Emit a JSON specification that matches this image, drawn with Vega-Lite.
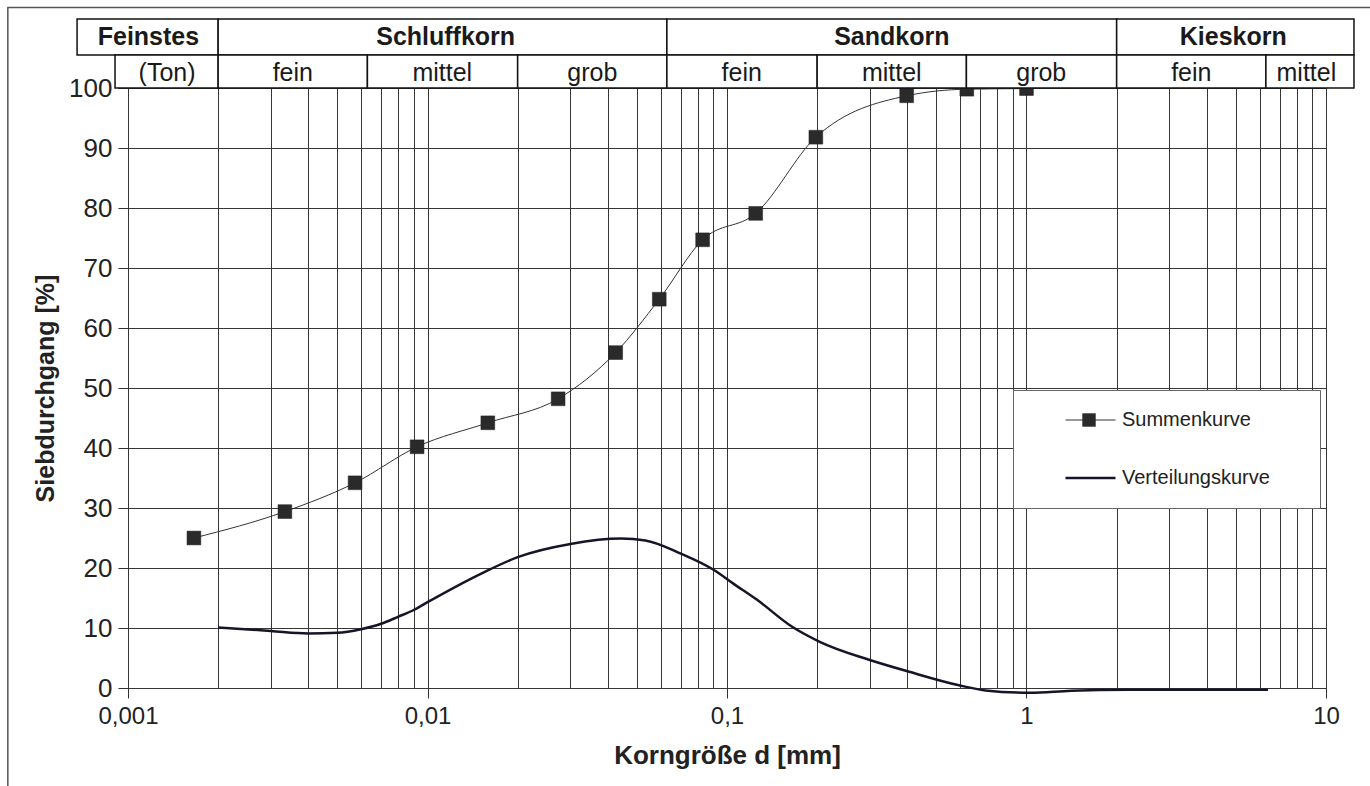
{
  "$schema": "https://vega.github.io/schema/vega-lite/v6.json",
  "width": 1198,
  "height": 600,
  "autosize": {"type": "none"},
  "padding": {"left": 128, "top": 88, "right": 44, "bottom": 98},
  "background": "white",
  "config": {
    "font": "Liberation Sans",
    "view": {"stroke": "#222222", "strokeWidth": 1},
    "axis": {"labelFont": "Liberation Sans", "titleFont": "Liberation Sans", "labelColor": "#222222", "titleColor": "#222222"},
    "legend": {"labelFont": "Liberation Sans", "labelColor": "#222222"}
  },
  "datasets": {
    "kurven": [
      {"series": "Summenkurve", "d": 0.00166, "p": 25.0},
      {"series": "Summenkurve", "d": 0.00334, "p": 29.4},
      {"series": "Summenkurve", "d": 0.00573, "p": 34.2},
      {"series": "Summenkurve", "d": 0.00923, "p": 40.2},
      {"series": "Summenkurve", "d": 0.0159, "p": 44.2},
      {"series": "Summenkurve", "d": 0.0273, "p": 48.2},
      {"series": "Summenkurve", "d": 0.0425, "p": 55.9},
      {"series": "Summenkurve", "d": 0.0594, "p": 64.8},
      {"series": "Summenkurve", "d": 0.0829, "p": 74.7},
      {"series": "Summenkurve", "d": 0.1247, "p": 79.1},
      {"series": "Summenkurve", "d": 0.198, "p": 91.8},
      {"series": "Summenkurve", "d": 0.398, "p": 98.7},
      {"series": "Summenkurve", "d": 0.632, "p": 99.8},
      {"series": "Summenkurve", "d": 1.0, "p": 99.9},
      {"series": "Verteilungskurve", "d": 0.002, "p": 10.1},
      {"series": "Verteilungskurve", "d": 0.003, "p": 9.5},
      {"series": "Verteilungskurve", "d": 0.004, "p": 9.1},
      {"series": "Verteilungskurve", "d": 0.005, "p": 9.2},
      {"series": "Verteilungskurve", "d": 0.006, "p": 9.8},
      {"series": "Verteilungskurve", "d": 0.007, "p": 10.7},
      {"series": "Verteilungskurve", "d": 0.008, "p": 11.9},
      {"series": "Verteilungskurve", "d": 0.009, "p": 13.0},
      {"series": "Verteilungskurve", "d": 0.01, "p": 14.3},
      {"series": "Verteilungskurve", "d": 0.0153, "p": 19.2},
      {"series": "Verteilungskurve", "d": 0.02, "p": 21.8},
      {"series": "Verteilungskurve", "d": 0.03, "p": 24.0},
      {"series": "Verteilungskurve", "d": 0.0443, "p": 24.9},
      {"series": "Verteilungskurve", "d": 0.0534, "p": 24.6},
      {"series": "Verteilungskurve", "d": 0.0701, "p": 22.4},
      {"series": "Verteilungskurve", "d": 0.0902, "p": 19.7},
      {"series": "Verteilungskurve", "d": 0.105, "p": 17.4},
      {"series": "Verteilungskurve", "d": 0.126, "p": 14.7},
      {"series": "Verteilungskurve", "d": 0.165, "p": 10.2},
      {"series": "Verteilungskurve", "d": 0.204, "p": 7.7},
      {"series": "Verteilungskurve", "d": 0.298, "p": 4.7},
      {"series": "Verteilungskurve", "d": 0.406, "p": 2.7},
      {"series": "Verteilungskurve", "d": 0.59, "p": 0.5},
      {"series": "Verteilungskurve", "d": 0.73, "p": -0.4},
      {"series": "Verteilungskurve", "d": 1.03, "p": -0.8},
      {"series": "Verteilungskurve", "d": 1.41, "p": -0.45},
      {"series": "Verteilungskurve", "d": 2.17, "p": -0.3},
      {"series": "Verteilungskurve", "d": 6.4, "p": -0.3}
    ],
    "kopf_oben": [
      {"label": "Feinstes", "d_von": 0.000676, "d_bis": 0.002, "d_mitte": 0.00117},
      {"label": "Schluffkorn", "d_von": 0.002, "d_bis": 0.063, "d_mitte": 0.0115},
      {"label": "Sandkorn", "d_von": 0.063, "d_bis": 2, "d_mitte": 0.355},
      {"label": "Kieskorn", "d_von": 2, "d_bis": 12.4, "d_mitte": 4.9}
    ],
    "kopf_unten": [
      {"label": "(Ton)", "d_von": 0.000905, "d_bis": 0.002, "d_mitte": 0.00135},
      {"label": "fein", "d_von": 0.002, "d_bis": 0.0063, "d_mitte": 0.00355},
      {"label": "mittel", "d_von": 0.0063, "d_bis": 0.02, "d_mitte": 0.0112},
      {"label": "grob", "d_von": 0.02, "d_bis": 0.063, "d_mitte": 0.0355},
      {"label": "fein", "d_von": 0.063, "d_bis": 0.2, "d_mitte": 0.112},
      {"label": "mittel", "d_von": 0.2, "d_bis": 0.63, "d_mitte": 0.355},
      {"label": "grob", "d_von": 0.63, "d_bis": 2, "d_mitte": 1.12},
      {"label": "fein", "d_von": 2, "d_bis": 6.3, "d_mitte": 3.55},
      {"label": "mittel", "d_von": 6.3, "d_bis": 12.4, "d_mitte": 8.6}
    ]
  },
  "layer": [
    {
      "data": {"name": "kurven"},
      "mark": {"type": "line", "interpolate": "monotone", "clip": false},
      "encoding": {
        "x": {
          "field": "d", "type": "quantitative",
          "scale": {"type": "log", "domain": [0.001, 10], "nice": false},
          "axis": {
            "values": [0.001, 0.002, 0.003, 0.004, 0.005, 0.006, 0.007, 0.008, 0.009, 0.01, 0.02, 0.03, 0.04, 0.05, 0.06, 0.07, 0.08, 0.09, 0.1, 0.2, 0.3, 0.4, 0.5, 0.6, 0.7, 0.8, 0.9, 1, 2, 3, 4, 5, 6, 7, 8, 9, 10],
            "labelExpr": "datum.value == 0.001 ? '0,001' : datum.value == 0.01 ? '0,01' : datum.value == 0.1 ? '0,1' : datum.value == 1 ? '1' : datum.value == 10 ? '10' : ''",
            "grid": true, "gridColor": "#363636", "gridWidth": 1,
            "domain": false,
            "ticks": true, "tickSize": 10, "tickColor": "#333333", "tickWidth": 1,
            "tickOpacity": {"condition": {"test": "indexof([0.001, 0.01, 0.1, 1, 10], datum.value) >= 0", "value": 1}, "value": 0},
            "labelFontSize": 24, "labelPadding": 6, "labelFlush": false, "labelOverlap": false, "labelBound": false,
            "title": "Korngröße  d [mm]", "titleFontSize": 26, "titleFontWeight": "bold", "titlePadding": 14
          }
        },
        "y": {
          "field": "p", "type": "quantitative",
          "scale": {"domain": [0, 100], "nice": false, "zero": false},
          "axis": {
            "values": [0, 5, 10, 15, 20, 25, 30, 35, 40, 45, 50, 55, 60, 65, 70, 75, 80, 85, 90, 95, 100],
            "labelExpr": "datum.value % 10 == 0 ? datum.label : ''",
            "grid": true, "gridColor": "#363636", "gridWidth": 1,
            "domain": false,
            "ticks": true, "tickSize": 10, "tickColor": "#333333",
            "tickOpacity": {"condition": {"test": "datum.value % 10 == 0", "value": 1}, "value": 0},
            "labelFontSize": 26, "labelPadding": 6, "labelOverlap": false, "labelFlush": false,
            "title": "Siebdurchgang [%]", "titleFontSize": 25, "titleFontWeight": "bold", "titlePadding": 10
          }
        },
        "color": {
          "field": "series", "type": "nominal",
          "scale": {"domain": ["Summenkurve", "Verteilungskurve"], "range": ["#333333", "#15152a"]},
          "legend": {
            "orient": "none", "legendX": 885, "legendY": 302, "direction": "vertical", "title": null,
            "padding": 5, "rowPadding": 8, "clipHeight": 50, "symbolSize": 2500, "symbolOffset": 46, "labelOffset": 5,
            "labelFontSize": 20, "labelLimit": 400,
            "labelExpr": "datum.label + '\u2800\u2800\u2800'",
            "strokeColor": "#666666", "fillColor": "white", "cornerRadius": 0
          }
        },
        "strokeWidth": {
          "field": "series", "type": "ordinal",
          "scale": {"domain": ["Summenkurve", "Verteilungskurve"], "range": [1, 2.5]}
        }
      }
    },
    {
      "data": {"values": [{"rahmen": 1}]},
      "mark": {"type": "rect", "fill": null, "fillOpacity": 0, "stroke": "#555555", "strokeWidth": 1.5, "clip": false},
      "encoding": {
        "x": {"datum": 0.000397, "type": "quantitative", "scale": {"type": "log", "domain": [0.001, 10], "nice": false}},
        "x2": {"datum": 100},
        "y": {"datum": -40, "type": "quantitative", "scale": {"domain": [0, 100], "nice": false, "zero": false}},
        "y2": {"datum": 113.4}
      }
    },
    {
      "data": {"name": "kurven"},
      "transform": [{"filter": "datum.series == 'Summenkurve'"}],
      "mark": {"type": "point", "filled": true, "color": "#2a2a2a", "opacity": 1, "size": 190, "stroke": "#222222", "strokeWidth": 0.5, "clip": false},
      "encoding": {
        "x": {"field": "d", "type": "quantitative", "scale": {"type": "log", "domain": [0.001, 10], "nice": false}},
        "y": {"field": "p", "type": "quantitative", "scale": {"domain": [0, 100], "nice": false, "zero": false}},
        "shape": {
          "field": "series", "type": "nominal",
          "scale": {"domain": ["Summenkurve"], "range": ["square"]},
          "legend": {
            "orient": "none", "legendX": 954, "legendY": 325, "title": null, "padding": 0,
            "symbolSize": 180, "symbolFillColor": "#2a2a2a", "symbolStrokeColor": "#222222", "symbolStrokeWidth": 0.5,
            "labelExpr": "''", "labelFontSize": 1, "symbolOffset": 0
          }
        }
      }
    },
    {
      "data": {"name": "kopf_oben"},
      "mark": {"type": "rect", "fill": "white", "stroke": "#111111", "strokeWidth": 1.5, "clip": false},
      "encoding": {
        "x": {"field": "d_von", "type": "quantitative", "scale": {"type": "log", "domain": [0.001, 10], "nice": false}},
        "x2": {"field": "d_bis"},
        "y": {"datum": 105.5, "type": "quantitative", "scale": {"domain": [0, 100], "nice": false, "zero": false}},
        "y2": {"datum": 111.5}
      }
    },
    {
      "data": {"name": "kopf_unten"},
      "mark": {"type": "rect", "fill": "white", "stroke": "#111111", "strokeWidth": 1.5, "clip": false},
      "encoding": {
        "x": {"field": "d_von", "type": "quantitative", "scale": {"type": "log", "domain": [0.001, 10], "nice": false}},
        "x2": {"field": "d_bis"},
        "y": {"datum": 100, "type": "quantitative", "scale": {"domain": [0, 100], "nice": false, "zero": false}},
        "y2": {"datum": 105.5}
      }
    },
    {
      "data": {"name": "kopf_oben"},
      "mark": {"type": "text", "font": "Liberation Sans", "fontSize": 25, "fontWeight": "bold", "color": "#1a1a1a", "align": "center", "baseline": "middle", "clip": false},
      "encoding": {
        "x": {"field": "d_mitte", "type": "quantitative", "scale": {"type": "log", "domain": [0.001, 10], "nice": false}},
        "y": {"datum": 108.5, "type": "quantitative", "scale": {"domain": [0, 100], "nice": false, "zero": false}},
        "text": {"field": "label"}
      }
    },
    {
      "data": {"name": "kopf_unten"},
      "mark": {"type": "text", "font": "Liberation Sans", "fontSize": 25, "color": "#1a1a1a", "align": "center", "baseline": "middle", "clip": false},
      "encoding": {
        "x": {"field": "d_mitte", "type": "quantitative", "scale": {"type": "log", "domain": [0.001, 10], "nice": false}},
        "y": {"datum": 102.5, "type": "quantitative", "scale": {"domain": [0, 100], "nice": false, "zero": false}},
        "text": {"field": "label"}
      }
    }
  ]
}
